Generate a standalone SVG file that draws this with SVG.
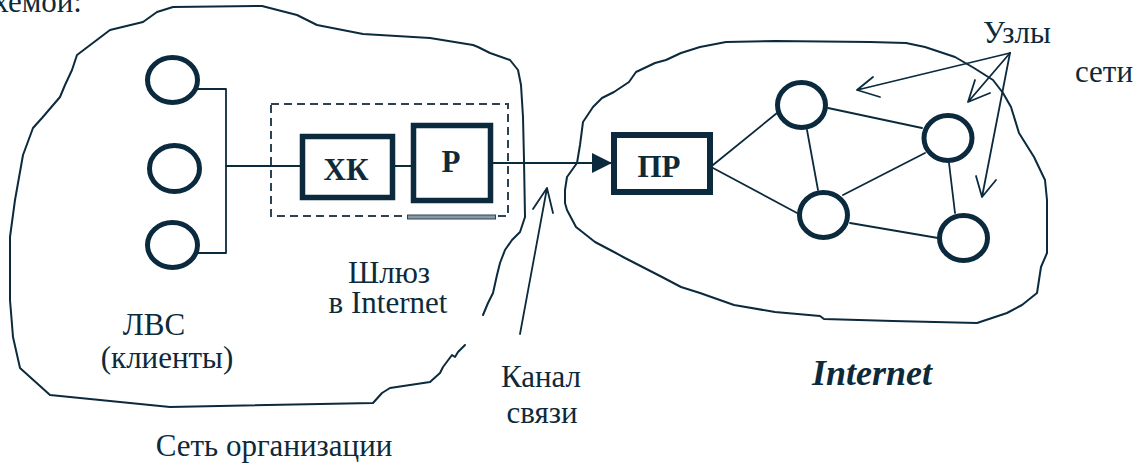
<svg xmlns="http://www.w3.org/2000/svg" width="1138" height="465" viewBox="0 0 1138 465">
  <style>
    .ink { stroke: #0b2a3d; fill: none; stroke-linejoin: round; stroke-linecap: round; }
    .cloud { stroke-width: 2; }
    .wire { stroke-width: 1.8; }
    .ring { stroke: #0b2a3d; stroke-width: 5; fill: #ffffff; }
    .box { stroke: #0b2a3d; stroke-width: 5.5; fill: #ffffff; }
    .dash { stroke: #2c4354; stroke-width: 2; fill: none; stroke-dasharray: 8 5; }
    text { font-family: 'Liberation Serif', 'DejaVu Serif', serif; font-size: 31px; fill: #0d2a3a; }
    .bold { font-weight: bold; }
  </style>
  <defs>
    <marker id="solidHead" viewBox="0 0 20 20" refX="19" refY="10" markerWidth="20" markerHeight="20" markerUnits="userSpaceOnUse" orient="auto">
      <path d="M0,0 L20,10 L0,20 Z" fill="#0b2a3d"/>
    </marker>
  </defs>
  <rect width="1138" height="465" fill="#ffffff"/>

  <!-- fragment of the preceding sentence -->
  <text x="82" y="12" text-anchor="end">схемой:</text>

  <!-- organisation network outline (open hand-drawn contour) -->
  <g id="org-cloud">
    <path class="ink cloud" d="M483,315 L488,303 L493,293 L497,275 L500,263 L505,250 L512,240 L520,232 L525,217 L524,160 L523,117 L521,85 L518,70 L510,60 L490,53 L478,47 L473,45 L430,38 L363,34 L317,25 L297,15 L262,6 L173,7 L157,12 L143,22 L110,30 L77,55 L72,70 L65,85 L60,97 L42,118 L33,128 L23,155 L15,200 L10,237 L10,300 L13,337 L20,368 L50,395 L170,407 L373,403 L382,393 L390,388 L430,382 L440,373 L443,367 L452,355 L455,357 L458,352 L465,345"/>
  </g>

  <!-- internet outline -->
  <g id="internet-cloud">
    <path class="ink cloud" d="M565,190 L567,177 L577,163 L580,145 L583,122 L593,107 L602,98 L614,92 L629,82 L636,72 L655,63 L666,60 L681,53 L700,47 L726,42 L775,41 L870,42 L906,43 L925,47 L955,57 L974,68 L993,80 L1003,93 L1011,107 L1019,133 L1034,157 L1045,180 L1047,200 L1047,253 L1041,267 L1037,293 L1022,305 L1007,313 L977,323 L893,321 L824,319 L820,316 L775,312 L734,305 L700,293 L681,287 L662,277 L625,258 L614,252 L595,242 L576,227 L567,210 L565,203 Z"/>
  </g>

  <!-- connectors -->
  <g id="connectors" class="ink wire">
    <!-- LAN bus -->
    <path d="M197,89 H226 V253 H197"/>
    <path d="M226,166 H300"/>
    <path d="M393,166 H411"/>
    <!-- channel from router to provider -->
    <path d="M493,163 H611" marker-end="url(#solidHead)"/>
    <!-- internet mesh -->
    <path d="M713,165 L777,113"/>
    <path d="M713,168 L797,213"/>
    <path d="M828,108 L922,128"/>
    <path d="M807,130 L818,190"/>
    <path d="M925,153 L843,195"/>
    <path d="M949,163 L955,213"/>
    <path d="M850,223 L938,238"/>
    <!-- "Канал связи" pointer -->
    <path d="M520,334 L547,188 M533,209 L547,188 L553,213"/>
    <!-- "Узлы сети" pointers -->
    <path d="M1010,53 L857,90 M873,77 L857,90 L880,97"/>
    <path d="M1010,53 L968,102 M975,80 L968,102 L990,93"/>
    <path d="M1010,53 L982,197 M976,176 L982,197 L996,180"/>
  </g>

  <!-- LAN clients -->
  <g id="client-1"><ellipse class="ring" cx="172.5" cy="80" rx="25" ry="22.5"/></g>
  <g id="client-2"><ellipse class="ring" cx="174.5" cy="168.5" rx="25" ry="23"/></g>
  <g id="client-3"><ellipse class="ring" cx="172.5" cy="245" rx="25" ry="22.5"/></g>

  <!-- gateway: firewall host + router -->
  <g id="gateway">
    <rect class="dash" x="271" y="104" width="237" height="112"/>
    <rect x="407.5" y="215" width="88" height="4" fill="#8a9aa5" stroke="#2c4354" stroke-width="1"/>
  </g>
  <g id="hk">
    <rect class="box" x="302.5" y="136.5" width="90" height="61"/>
    <text class="bold" x="346" y="180" text-anchor="middle">ХК</text>
  </g>
  <g id="router">
    <rect class="box" x="413.5" y="125.5" width="77" height="75"/>
    <text class="bold" x="451" y="172" text-anchor="middle">Р</text>
  </g>

  <!-- provider -->
  <g id="provider">
    <rect x="614" y="135" width="96" height="57" fill="#ffffff" stroke="#0b2a3d" stroke-width="6"/>
    <text class="bold" x="659" y="177" text-anchor="middle">ПР</text>
  </g>

  <!-- internet nodes -->
  <g id="node-a"><ellipse class="ring" cx="801.5" cy="105" rx="24" ry="22.5" stroke-width="5.5"/></g>
  <g id="node-b"><ellipse class="ring" cx="948" cy="138" rx="24" ry="22.5" stroke-width="5.5"/></g>
  <g id="node-c"><ellipse class="ring" cx="823.5" cy="215" rx="24" ry="22.5" stroke-width="5.5"/></g>
  <g id="node-d"><ellipse class="ring" cx="963.5" cy="238" rx="24" ry="22.5" stroke-width="5.5"/></g>

  <!-- captions -->
  <g id="labels">
    <text x="154" y="335" text-anchor="middle">ЛВС</text>
    <text x="167" y="368" text-anchor="middle">(клиенты)</text>
    <text x="389" y="283" text-anchor="middle">Шлюз</text>
    <text x="388" y="313" text-anchor="middle">в Internet</text>
    <text x="541" y="387" text-anchor="middle">Канал</text>
    <text x="542" y="423" text-anchor="middle">связи</text>
    <text x="274" y="456" text-anchor="middle">Сеть организации</text>
    <text x="1017" y="43" text-anchor="middle">Узлы</text>
    <text x="1104" y="82" text-anchor="middle">сети</text>
    <text class="bold" x="872" y="385" text-anchor="middle" style="font-size:36px;font-style:italic">Internet</text>
  </g>
</svg>
